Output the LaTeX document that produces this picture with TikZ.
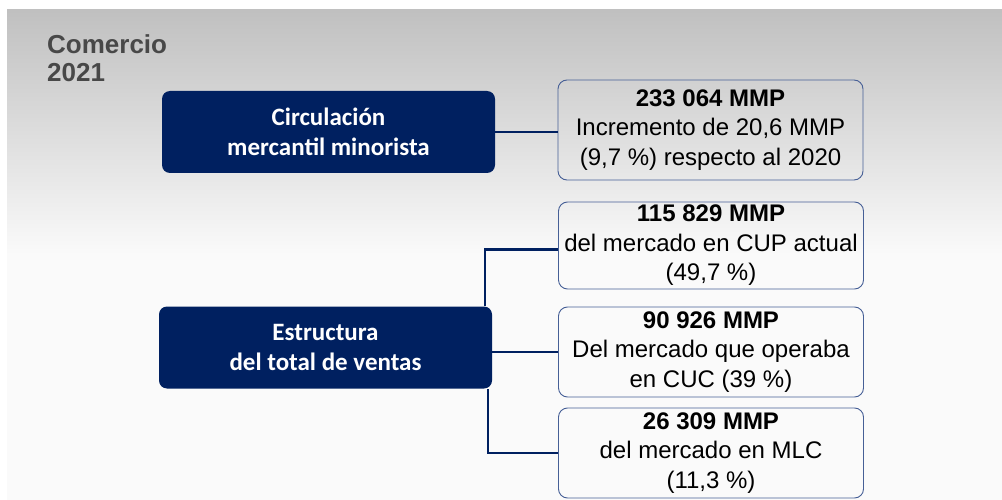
\documentclass[tikz,border=0pt]{standalone}
\usepackage{fontspec}
\setmainfont{Liberation Sans}
\newfontfamily\carlito{Carlito}
\usetikzlibrary{calc}

\definecolor{navy}{RGB}{0,32,96}
\definecolor{edge}{RGB}{70,95,150}
\definecolor{titlegray}{RGB}{72,72,72}
\definecolor{bgtop}{RGB}{192,192,192}
\definecolor{bglow}{RGB}{250,250,250}

\tikzset{
    darkbox/.style={rectangle, rounded corners=8pt, fill=navy, text=white, align=center,
        minimum width=333pt, minimum height=82pt, font=\carlito\bfseries\fontsize{25}{30}\selectfont},
    valbox/.style={rectangle, draw=edge, line width=0.9pt, rounded corners=9pt, align=center,
        minimum width=305pt, inner sep=0pt, font=\fontsize{24}{29.5}\selectfont},
    link/.style={draw=navy, line width=2.4pt}
}

\begin{document}
\begin{tikzpicture}[x=1pt, y=-1pt]
    % Background
    \useasboundingbox (0,0) rectangle (1002,500);
    \fill[white] (0,0) rectangle (1002,500);
    \shade[top color=bgtop, bottom color=bglow, middle color=bglow] (7,10) rectangle (1002,500);

    % Title
    \node[anchor=north west, inner sep=0pt, align=left, text=titlegray,
        font=\bfseries\fontsize{26}{28}\selectfont] (title) at (47,34) {Comercio\\2021};

    % Main blocks
    \node[darkbox] (circ) at (328.5,132) {Circulación\\mercantil minorista};
    \node[darkbox] (est) at (325.5,347.5) {Estructura\\del total de ventas};

    % Value boxes
    \node[valbox, minimum height=100pt] (inc) at (710.5,130)
        {\textbf{233 064 MMP}\\Incremento de 20,6 MMP\\(9,7 \%) respecto al 2020};
    \node[valbox, minimum height=87pt] (cup) at (711,245.5)
        {\textbf{115 829 MMP}\\del mercado en CUP actual\\(49,7 \%)};
    \node[valbox, minimum height=90pt] (cuc) at (711,352)
        {\textbf{90 926 MMP}\\Del mercado que operaba\\en CUC (39 \%)};
    \node[valbox, minimum height=90pt] (mlc) at (711,453)
        {\textbf{26 309 MMP}\\del mercado en MLC\\(11,3 \%)};

    % Connectors
    \draw[link] (circ.east) -- (circ.east -| inc.west);
    \draw[link] ([yshift=-4pt]cup.west) -| ([xshift=-7pt]est.north east);
    \draw[link] (est.east |- cuc.west) -- (cuc.west);
    \draw[link] (mlc.west) -| ([xshift=-4pt]est.south east);
\end{tikzpicture}
\end{document}
